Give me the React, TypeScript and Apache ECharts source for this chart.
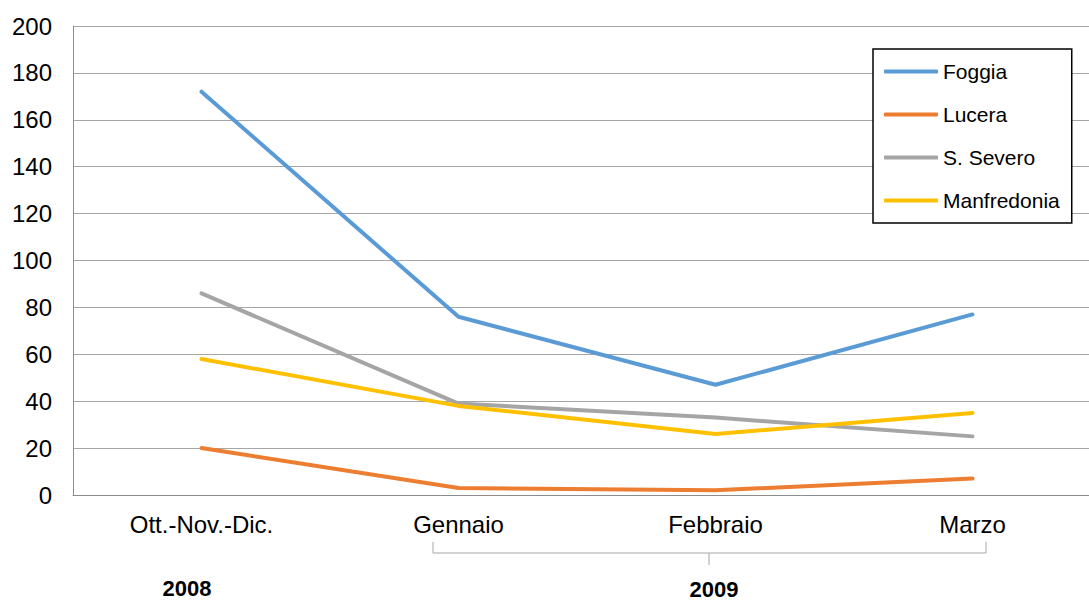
import React, { useEffect, useRef } from "react";
import * as echarts from "echarts";

const categories = ["Ott.-Nov.-Dic.", "Gennaio", "Febbraio", "Marzo"];
const seriesNames = ["Foggia", "Lucera", "S. Severo", "Manfredonia"];
const foggia = [172, 76, 47, 77];
const lucera = [20, 3, 2, 7];
const sSevero = [86, 39, 33, 25];
const manfredonia = [58, 38, 26, 35];
const yTicks = { min: 0, max: 200, interval: 20 };
const years = ["2008", "2009"];
const colors = ["#5B9BD5", "#ED7D31", "#A5A5A5", "#FFC000"];

export default function App() {
  const ref = useRef<HTMLDivElement>(null);
  useEffect(() => {
    document.body.style.margin = "0";
    const chart = echarts.init(ref.current!, null, { renderer: "svg" });
    const data = [foggia, lucera, sSevero, manfredonia];
    const font = "Liberation Sans, Arial, sans-serif";
    chart.setOption({
      animation: false,
      textStyle: { fontFamily: font },
      grid: { left: 73, top: 26, bottom: 106, width: 1028, containLabel: false, outerBoundsMode: "none" },
      legend: {
        orient: "vertical",
        left: 873,
        top: 49,
        padding: [12, 12, 12, 11],
        itemWidth: 54,
        itemHeight: 4,
        itemGap: 22,
        icon: "roundRect",
        borderColor: "#000",
        borderWidth: 1.5,
        backgroundColor: "#fff",
        textStyle: { fontSize: 21, color: "#000", fontFamily: font },
        data: seriesNames,
      },
      xAxis: {
        type: "category",
        data: categories,
        boundaryGap: true,
        axisLine: { lineStyle: { color: "#8C8C8C", width: 1 } },
        axisTick: { show: false },
        axisLabel: { fontSize: 24, color: "#000", margin: 17, fontFamily: font },
      },
      yAxis: {
        type: "value",
        min: yTicks.min,
        max: yTicks.max,
        interval: yTicks.interval,
        axisLine: { show: true, lineStyle: { color: "#8C8C8C", width: 1 } },
        axisTick: { show: false },
        splitLine: { lineStyle: { color: "#A6A6A6", width: 1 } },
        axisLabel: { fontSize: 24, color: "#000", margin: 21, fontFamily: font },
      },
      series: seriesNames.map((name, i) => ({
        name,
        type: "line",
        data: data[i],
        symbol: "none",
        lineStyle: { color: colors[i], width: 4, cap: "round", join: "round" },
        itemStyle: { color: colors[i] },
      })),
      graphic: [
        {
          type: "polyline",
          shape: { points: [[433, 542], [433, 553], [986, 553], [986, 542]] },
          style: { stroke: "#A6A6A6", lineWidth: 1, fill: null },
        },
        {
          type: "line",
          shape: { x1: 709, y1: 553, x2: 709, y2: 565 },
          style: { stroke: "#A6A6A6", lineWidth: 1 },
        },
        {
          type: "text",
          x: 187,
          y: 588,
          style: { text: years[0], font: `bold 22px ${font}`, fill: "#000", align: "center", verticalAlign: "middle" },
        },
        {
          type: "text",
          x: 714,
          y: 589,
          style: { text: years[1], font: `bold 22px ${font}`, fill: "#000", align: "center", verticalAlign: "middle" },
        },
      ],
    });
    return () => chart.dispose();
  }, []);
  return <div ref={ref} style={{ width: 1089, height: 601, position: "absolute", left: 0, top: 0 }} />;
}
